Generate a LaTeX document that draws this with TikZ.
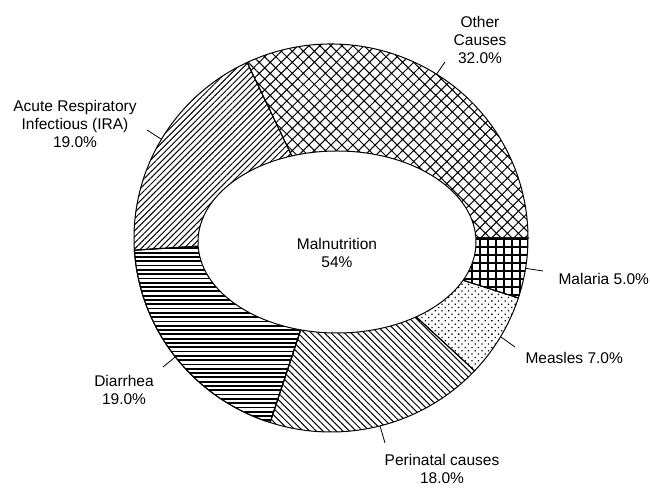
\documentclass[tikz,border=0pt]{standalone}
\usepackage{fontspec}
\setmainfont{Liberation Sans}
\usetikzlibrary{patterns.meta,calc}

\tikzset{
  sector/.style={draw=black,line width=1pt},
  pOther/.style={pattern={Hatch[angle=45,distance=7.8pt,line width=1pt]}},
  pMalaria/.style={pattern={Hatch[angle=0,distance=8pt,line width=1.6pt]}},
  pMeasles/.style={pattern={Dots[angle=45,distance=4.7pt,radius=0.9pt]}},
  pPerinatal/.style={pattern={Lines[angle=-45,distance=4.7pt,line width=1pt]}},
  pDiarrhea/.style={},
  pIra/.style={pattern={Lines[angle=45,distance=4.3pt,line width=1pt]}},
  lbl/.style={align=center,font=\fontsize{15.5}{18}\selectfont},
  leader/.style={draw=black,line width=0.8pt}
}

\begin{document}
\begin{tikzpicture}[x=1pt,y=1pt]
            \useasboundingbox (0,0) rectangle (650,487);
            \coordinate (c) at (331,249);
            \coordinate (ci) at (337,245);
            % slices, clockwise from 3 o'clock
            \foreach \a/\b/\p in {0/-18/pMalaria,-18/-43.2/pMeasles,-43.2/-108/pPerinatal,
                                  -108/-176.4/pDiarrhea,-176.4/-244.8/pIra,-244.8/-360/pOther}
                \draw[sector,\p] (c) -- ($(c)+({197*cos(\a)},{194*sin(\a)})$)
                    arc[start angle=\a,end angle=\b,x radius=197pt,y radius=194pt] -- cycle;
            % horizontal hatching of the diarrhea slice
            \begin{scope}
                \clip (c) -- ($(c)+({197*cos(-108)},{194*sin(-108)})$)
                    arc[start angle=-108,end angle=-176.4,x radius=197pt,y radius=194pt] -- cycle;
                \foreach \y in {58,62.3,...,242}
                    \draw[line width=1.8pt] (120,\y) -- (340,\y);
            \end{scope}
            \draw[sector] (c) -- ($(c)+({197*cos(-108)},{194*sin(-108)})$)
                arc[start angle=-108,end angle=-176.4,x radius=197pt,y radius=194pt] -- cycle;
            % hole
            \draw[sector,fill=white] (ci) ellipse[x radius=139pt,y radius=91pt];
            \node[lbl] (malnu) at (337,234) {Malnutrition\\54\%};
            % leaders
            \coordinate (mMal) at ($(c)+({197*cos(-9)},{194*sin(-9)})$);
            \coordinate (mMea) at ($(c)+({197*cos(-30.6)},{194*sin(-30.6)})$);
            \coordinate (mPer) at ($(c)+({197*cos(-75.6)},{194*sin(-75.6)})$);
            \coordinate (mDia) at ($(c)+({197*cos(-142.2)},{194*sin(-142.2)})$);
            \coordinate (mIra) at ($(c)+({197*cos(149.4)},{194*sin(149.4)})$);
            \coordinate (mOth) at ($(c)+({197*cos(57.6)},{194*sin(57.6)})$);
            \coordinate (eMal) at (543,216);
            \coordinate (eMea) at (515,140);
            \coordinate (ePer) at (385,44);
            \coordinate (eDia) at (163,120);
            \coordinate (eIra) at (147,357);
            \coordinate (eOth) at (445,425);
            \foreach \s in {Mal,Mea,Per,Dia,Ira,Oth}
                \draw[leader] (m\s) -- (e\s);
            % labels
            \node[lbl,anchor=west] (lMal) at (555,208) {Malaria 5.0\%};
            \node[lbl,anchor=west] (lMea) at (522,129) {Measles 7.0\%};
            \node[lbl] (lPer) at (442,18) {Perinatal causes\\18.0\%};
            \node[lbl] (lDia) at (124,97) {Diarrhea\\19.0\%};
            \node[lbl] (lIra) at (75,363) {Acute Respiratory\\Infectious (IRA)\\19.0\%};
            \node[lbl] (lOth) at (480,447) {Other\\Causes\\32.0\%};
\end{tikzpicture}
\end{document}
